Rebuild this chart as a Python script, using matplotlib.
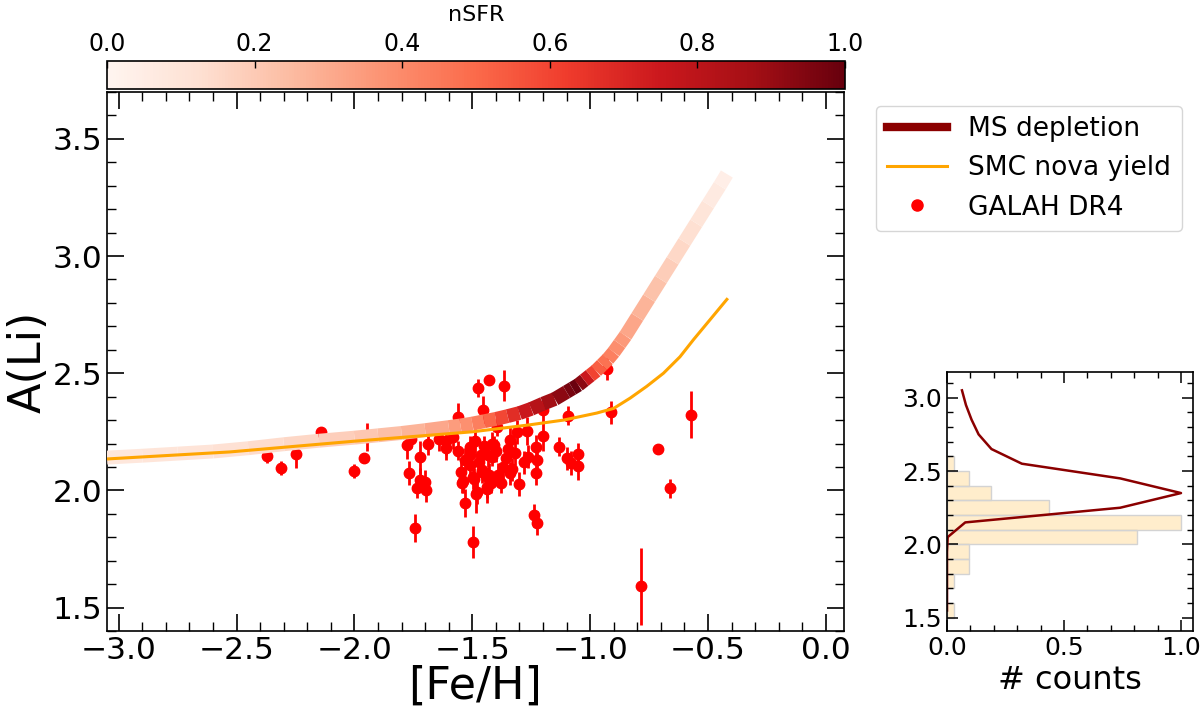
import numpy as np
import matplotlib
matplotlib.use("Agg")
import matplotlib.pyplot as plt
from matplotlib.collections import LineCollection
from matplotlib.lines import Line2D
from matplotlib.ticker import MultipleLocator
import matplotlib.colors as mcolors

# ---------------- data ----------------
# GALAH DR4 stars
feh = [-2.37, -2.31, -2.25, -2.14, -2.00, -1.958, -1.945,
       -1.776, -1.76, -1.768, -1.72, -1.72, -1.70, -1.733, -1.697, -1.745, -1.687,
       -1.613, -1.61, -1.58, -1.56, -1.474, -1.428, -1.367, -1.454, -1.394,
       -1.51, -1.51, -1.51, -1.463, -1.539, -1.545, -1.497, -1.494, -1.53,
       -1.484, -1.48, -1.497, -1.432, -1.415, -1.41, -1.417, -1.458, -1.46,
       -1.432, -1.428, -1.439, -1.436, -1.42, -1.39, -1.38, -1.358, -1.338,
       -1.347, -1.34, -1.30, -1.27, -1.262, -1.23, -1.227, -1.23, -1.24,
       -1.224, -1.198, -1.198, -1.096, -1.133, -1.10, -1.082, -1.05, -1.05,
       -0.927, -0.911, -0.714, -0.662, -0.572, -0.785,
       -1.53, -1.47, -1.40, -1.37, -1.32, -1.56, -1.28, -1.45,
       -1.64, -1.49, -1.31, -1.55, -1.33]
ali = [2.147, 2.094, 2.154, 2.25, 2.083, 2.138, 2.227,
       2.194, 2.22, 2.075, 2.141, 2.044, 2.037, 2.009, 2.0, 1.84, 2.20,
       2.211, 2.18, 2.227, 2.313, 2.437, 2.473, 2.447, 2.344, 2.27,
       2.184, 2.151, 2.11, 2.151, 2.04, 2.03, 2.058, 2.047, 1.947,
       1.984, 1.994, 1.78, 2.151, 2.20, 2.194, 2.144, 2.08, 2.087,
       2.051, 2.066, 2.016, 2.008, 2.03, 2.066, 2.03, 2.137, 2.216,
       2.176, 2.073, 2.027, 2.255, 2.144, 2.187, 2.13, 2.073, 1.894,
       1.861, 2.341, 2.23, 2.318, 2.187, 2.137, 2.116, 2.154, 2.104,
       2.52, 2.333, 2.176, 2.009, 2.323, 1.59,
       2.13, 2.12, 2.17, 2.10, 2.16, 2.17, 2.12, 2.19,
       2.22, 2.21, 2.25, 2.08, 2.09]
ali_err = [0.03, 0.03, 0.06, 0.02, 0.03, 0.02, 0.06,
           0.06, 0.04, 0.05, 0.07, 0.05, 0.05, 0.04, 0.05, 0.06, 0.05,
           0.06, 0.05, 0.05, 0.06, 0.04, 0.02, 0.065, 0.06, 0.04,
           0.05, 0.05, 0.05, 0.04, 0.05, 0.04, 0.05, 0.05, 0.06,
           0.08, 0.05, 0.07, 0.05, 0.05, 0.04, 0.04, 0.05, 0.04,
           0.05, 0.05, 0.05, 0.06, 0.04, 0.05, 0.04, 0.05, 0.06,
           0.05, 0.05, 0.05, 0.06, 0.05, 0.05, 0.05, 0.05, 0.05,
           0.05, 0.05, 0.06, 0.04, 0.04, 0.05, 0.05, 0.05, 0.06,
           0.05, 0.05, 0.02, 0.04, 0.10, 0.165,
           0.05, 0.04, 0.05, 0.05, 0.05, 0.04, 0.05, 0.04,
           0.05, 0.05, 0.05, 0.05, 0.05]

# MS depletion track, coloured by nSFR
ms_feh = [-3.05, -2.9, -2.75, -2.6, -2.45, -2.3, -2.15, -2.0, -1.9, -1.8, -1.7,
          -1.6, -1.55, -1.5, -1.45, -1.4, -1.35, -1.3, -1.25, -1.2, -1.15, -1.1,
          -1.075, -1.05, -1.025, -1.0, -0.975, -0.95, -0.925, -0.9, -0.875, -0.85,
          -0.8, -0.75, -0.7, -0.65, -0.6, -0.55, -0.5, -0.45, -0.42]
ms_ali = [2.14, 2.148, 2.157, 2.166, 2.18, 2.197, 2.212, 2.225, 2.235, 2.245, 2.257,
          2.27, 2.277, 2.285, 2.295, 2.305, 2.317, 2.33, 2.348, 2.37, 2.39, 2.42,
          2.435, 2.45, 2.47, 2.49, 2.51, 2.535, 2.56, 2.59, 2.625, 2.66,
          2.74, 2.82, 2.90, 2.98, 3.06, 3.14, 3.22, 3.30, 3.35]
ms_nsfr = [0.08, 0.09, 0.10, 0.11, 0.13, 0.15, 0.17, 0.20, 0.22, 0.25, 0.29,
           0.33, 0.36, 0.40, 0.47, 0.55, 0.63, 0.72, 0.79, 0.85, 0.90, 0.95,
           0.98, 1.0, 0.85, 0.65, 0.56, 0.50, 0.45, 0.41, 0.37, 0.34,
           0.29, 0.25, 0.21, 0.17, 0.14, 0.11, 0.08, 0.05, 0.03]

# SMC nova yield
smc_feh = [-3.07, -2.53, -2.0, -1.5, -1.255, -1.113, -0.972, -0.90, -0.83,
           -0.76, -0.689, -0.619, -0.561, -0.49, -0.42]
smc_ali = [2.133, 2.164, 2.21, 2.25, 2.28, 2.30, 2.33, 2.35, 2.394,
           2.444, 2.50, 2.57, 2.644, 2.73, 2.815]

# histogram panel
hist_lo = [1.5, 1.6, 1.7, 1.8, 1.9, 2.0, 2.1, 2.2, 2.3, 2.4, 2.5]
hist_counts = [1, 0, 1, 3, 3, 26, 32, 14, 6, 3, 1]
dist_ali = [3.05, 2.95, 2.85, 2.75, 2.65, 2.55, 2.45, 2.35, 2.25, 2.15, 2.05, 1.95, 1.85, 1.75, 1.65, 1.55]
dist_val = [0.064, 0.081, 0.105, 0.135, 0.19, 0.32, 0.74, 1.0, 0.74, 0.078, 0.003, 0.0, 0.0, 0.0, 0.0, 0.0]

# ---------------- figure ----------------
W, H = 1200, 714
fig = plt.figure(figsize=(W / 100, H / 100), dpi=100)

def fr(l, t, r, b):
    return [l / W, 1 - b / H, (r - l) / W, (b - t) / H]

ax = fig.add_axes(fr(107, 92, 844, 631))
cax = fig.add_axes(fr(107, 61, 845, 89))
hax = fig.add_axes(fr(947, 372, 1192.7, 631))

cmap = plt.get_cmap("Reds")
norm = mcolors.Normalize(0, 1)

# scatter
ax.errorbar(feh, ali, yerr=ali_err, fmt="o", color="red", ms=7.5, elinewidth=2,
            capsize=0, zorder=2)

# MS depletion band
pts = np.column_stack([ms_feh, ms_ali])
segs = np.stack([pts[:-1], pts[1:]], axis=1)
cvals = 0.5 * (np.array(ms_nsfr[:-1]) + np.array(ms_nsfr[1:]))
lc = LineCollection(segs, cmap=cmap, norm=norm, linewidths=10, capstyle="butt",
                    joinstyle="round", zorder=3)
lc.set_array(cvals)
ax.add_collection(lc)

# SMC nova
ax.plot(smc_feh, smc_ali, color="orange", lw=2.2, zorder=4)

ax.set_xlim(-3.05, 0.077)
ax.set_ylim(1.4, 3.7)
ax.xaxis.set_major_locator(MultipleLocator(0.5))
ax.xaxis.set_minor_locator(MultipleLocator(0.1))
ax.yaxis.set_major_locator(MultipleLocator(0.5))
ax.yaxis.set_minor_locator(MultipleLocator(0.1))
ax.tick_params(which="both", direction="in", top=True, right=True, labelsize=22.5)
ax.tick_params(which="major", length=12, width=1.2)
ax.tick_params(which="minor", length=6.5, width=1.0)
for s in ax.spines.values():
    s.set_linewidth(1.2)
ax.set_xlabel("[Fe/H]", fontsize=32, labelpad=0)
ax.set_ylabel("A(Li)", fontsize=32, labelpad=2)

# colorbar
cb = matplotlib.colorbar.ColorbarBase(cax, cmap=cmap, norm=norm, orientation="horizontal")
cax.xaxis.set_ticks_position("top")
cax.xaxis.set_label_position("top")
cb.set_ticks([0.0, 0.2, 0.4, 0.6, 0.8, 1.0])
cb.set_ticklabels(["0.0", "0.2", "0.4", "0.6", "0.8", "1.0"])
cax.tick_params(direction="in", labelsize=17, length=5, width=1)
cb.set_label("nSFR", fontsize=16, labelpad=8)
cb.outline.set_linewidth(1.2)

# legend
handles = [Line2D([], [], color="darkred", lw=6),
           Line2D([], [], color="orange", lw=2.2),
           Line2D([], [], color="red", marker="o", ls="none", ms=8)]
labels = ["MS depletion", "SMC nova yield", "GALAH DR4"]
fig.legend(handles, labels, loc="upper left", bbox_to_anchor=(876 / W, 1 - 105.7 / H),
           borderaxespad=0, fontsize=19, frameon=True, handlelength=2.3)

# histogram panel
mx = max(hist_counts)
hax.barh(hist_lo, [c / mx for c in hist_counts], height=0.1, align="edge",
         color=(1.0, 0.647, 0.0, 0.2), edgecolor="lightgray", linewidth=1)
hax.plot(dist_val, dist_ali, color="darkred", lw=1.8)
hax.set_xlim(0, 1.05)
hax.set_ylim(1.41, 3.175)
hax.xaxis.set_major_locator(MultipleLocator(0.5))
hax.xaxis.set_minor_locator(MultipleLocator(0.1))
hax.yaxis.set_major_locator(MultipleLocator(0.5))
hax.yaxis.set_minor_locator(MultipleLocator(0.1))
hax.tick_params(which="both", direction="in", top=True, right=True, labelsize=18)
hax.tick_params(which="major", length=8, width=1.1)
hax.tick_params(which="minor", length=4.5, width=1.0)
for s in hax.spines.values():
    s.set_linewidth(1.2)
hax.set_xlabel("# counts", fontsize=23)

fig.savefig("out.png", dpi=100)
